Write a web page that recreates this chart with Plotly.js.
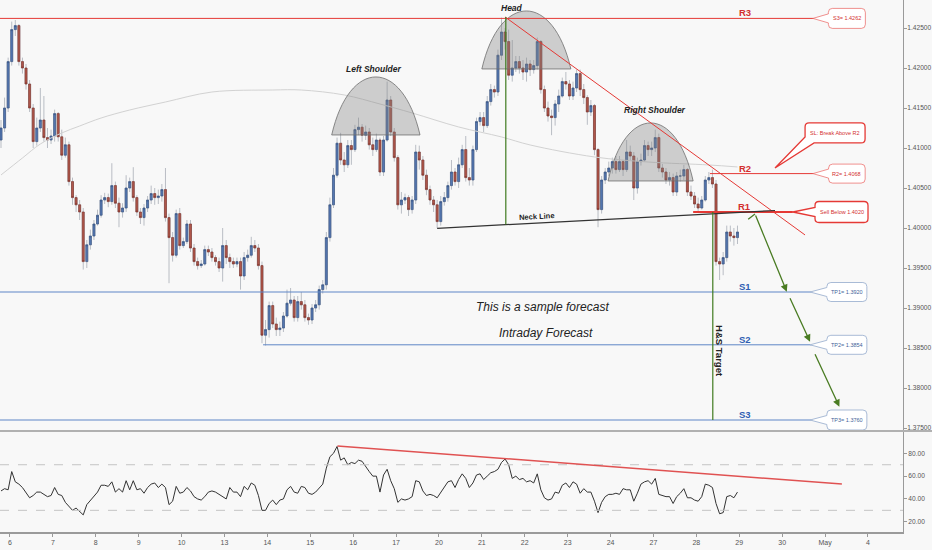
<!DOCTYPE html>
<html><head><meta charset="utf-8">
<script src="https://cdn.plot.ly/plotly-3.0.1.min.js"></script>
<style>html,body{margin:0;padding:0;background:#f8f8f8}#chart{width:932px;height:550px}</style>
</head><body><div id="chart"></div>
<script>
// ---------- data ----------
const dayLabels = ['6','7','8','9','10','13','14','15','16','17','20','21','22','23','24','27','28','29','30','May','4'];
const barsPerDay = 12;

const openP = [1.4110,1.4125,1.4150,1.4208,1.4248,1.4253,1.4208,1.4200,1.4180,1.4150,
1.4108,1.4125,1.4135,1.4113,1.4110,1.4115,1.4143,1.4114,1.4091,1.4104,
1.4058,1.4038,1.4029,1.4020,1.3958,1.3979,1.3990,1.4005,1.4016,1.4035,
1.4038,1.4033,1.4053,1.4031,1.4020,1.4025,1.4050,1.4058,1.4038,1.4020,
1.4013,1.4025,1.4035,1.4043,1.4038,1.4040,1.4048,1.4013,1.3988,1.3966,
1.4018,1.3978,1.3983,1.4005,1.3975,1.3958,1.3953,1.3955,1.3973,1.3970,
1.3963,1.3958,1.3950,1.3978,1.3963,1.3958,1.3955,1.3958,1.3940,1.3963,
1.3966,1.3978,1.3975,1.3953,1.3866,1.3873,1.3903,1.3880,1.3873,1.3875,
1.3890,1.3906,1.3910,1.3888,1.3908,1.3904,1.3888,1.3885,1.3900,1.3904,
1.3923,1.3929,1.3988,1.4029,1.4066,1.4106,1.4085,1.4079,1.4103,1.4098,
1.4123,1.4126,1.4116,1.4120,1.4104,1.4098,1.4110,1.4070,1.4110,1.4160,
1.4120,1.4088,1.4029,1.4035,1.4038,1.4023,1.4035,1.4095,1.4085,1.4066,
1.4048,1.4035,1.4029,1.4008,1.4033,1.4038,1.4053,1.4070,1.4058,1.4079,
1.4098,1.4063,1.4060,1.4098,1.4133,1.4138,1.4128,1.4158,1.4173,1.4170,
1.4216,1.4245,1.4233,1.4191,1.4200,1.4208,1.4200,1.4195,1.4205,1.4198,
1.4203,1.4233,1.4173,1.4150,1.4140,1.4138,1.4155,1.4165,1.4183,1.4180,
1.4165,1.4175,1.4193,1.4173,1.4163,1.4145,1.4153,1.4098,1.4023,1.4060,
1.4070,1.4075,1.4083,1.4073,1.4083,1.4073,1.4095,1.4090,1.4050,1.4083,
1.4085,1.4103,1.4098,1.4100,1.4113,1.4075,1.4070,1.4060,1.4063,1.4045,
1.4065,1.4065,1.4073,1.4045,1.4040,1.4030,1.4025,1.4035,1.4060,1.4063,
1.4055,1.3958,1.3955,1.3963,1.3995,1.3990,1.3988];

const highP = [1.4135,1.4163,1.4213,1.4258,1.4260,1.4255,1.4213,1.4205,1.4185,1.4155,
1.4138,1.4175,1.4165,1.4125,1.4123,1.4148,1.4145,1.4123,1.4113,1.4108,
1.4063,1.4041,1.4035,1.4025,1.3985,1.3998,1.4010,1.4023,1.4041,1.4044,
1.4043,1.4081,1.4058,1.4038,1.4031,1.4066,1.4063,1.4076,1.4041,1.4025,
1.4030,1.4040,1.4053,1.4050,1.4048,1.4055,1.4075,1.4018,1.3995,1.4023,
1.4025,1.3988,1.4010,1.4010,1.3980,1.3963,1.3960,1.3978,1.3978,1.3975,
1.3966,1.3963,1.4000,1.3985,1.3968,1.3963,1.3963,1.3963,1.3970,1.3973,
1.3989,1.3985,1.3980,1.3958,1.3885,1.3908,1.3908,1.3888,1.3883,1.3895,
1.3923,1.3925,1.3915,1.3915,1.3920,1.3910,1.3893,1.3905,1.3910,1.3928,
1.3935,1.3995,1.4038,1.4075,1.4113,1.4119,1.4095,1.4110,1.4110,1.4129,
1.4138,1.4130,1.4128,1.4125,1.4113,1.4118,1.4113,1.4115,1.4183,1.4165,
1.4125,1.4091,1.4045,1.4043,1.4041,1.4040,1.4104,1.4103,1.4090,1.4073,
1.4053,1.4040,1.4035,1.4040,1.4045,1.4058,1.4085,1.4075,1.4088,1.4104,
1.4115,1.4075,1.4103,1.4138,1.4145,1.4145,1.4165,1.4180,1.4178,1.4223,
1.4263,1.4250,1.4248,1.4235,1.4215,1.4215,1.4210,1.4213,1.4210,1.4210,
1.4238,1.4235,1.4178,1.4158,1.4148,1.4160,1.4173,1.4188,1.4195,1.4185,
1.4183,1.4198,1.4198,1.4180,1.4166,1.4160,1.4155,1.4100,1.4065,1.4075,
1.4083,1.4088,1.4090,1.4090,1.4085,1.4110,1.4103,1.4095,1.4088,1.4093,
1.4110,1.4108,1.4108,1.4123,1.4118,1.4080,1.4075,1.4070,1.4068,1.4070,
1.4073,1.4079,1.4075,1.4053,1.4045,1.4038,1.4040,1.4065,1.4070,1.4073,
1.4060,1.3963,1.3970,1.4003,1.4003,1.4000,1.4003];

const lowP = [1.4100,1.4120,1.4145,1.4203,1.4240,1.4203,1.4193,1.4173,1.4145,1.4100,
1.4103,1.4120,1.4108,1.4100,1.4105,1.4108,1.4108,1.4085,1.4088,1.4053,
1.4029,1.4020,1.4010,1.3948,1.3950,1.3973,1.3985,1.4003,1.4013,1.4030,
1.4026,1.4029,1.4025,1.4001,1.4013,1.4020,1.4045,1.4033,1.4015,1.4005,
1.4003,1.4020,1.4030,1.4029,1.4030,1.4033,1.4008,1.3931,1.3958,1.3963,
1.3973,1.3975,1.3980,1.3970,1.3953,1.3948,1.3950,1.3953,1.3965,1.3958,
1.3953,1.3945,1.3933,1.3955,1.3950,1.3950,1.3951,1.3923,1.3935,1.3958,
1.3963,1.3970,1.3948,1.3856,1.3853,1.3863,1.3875,1.3865,1.3865,1.3870,
1.3888,1.3903,1.3883,1.3883,1.3898,1.3883,1.3879,1.3880,1.3895,1.3898,
1.3918,1.3923,1.3983,1.4025,1.4063,1.4079,1.4070,1.4075,1.4079,1.4095,
1.4116,1.4108,1.4110,1.4098,1.4090,1.4095,1.4065,1.4065,1.4108,1.4115,
1.4083,1.4023,1.4018,1.4030,1.4015,1.4018,1.4030,1.4073,1.4060,1.4041,
1.4029,1.4020,1.4000,1.4003,1.4028,1.4033,1.4048,1.4053,1.4050,1.4075,
1.4058,1.4053,1.4053,1.4095,1.4128,1.4120,1.4125,1.4153,1.4163,1.4165,
1.4210,1.4223,1.4185,1.4183,1.4195,1.4193,1.4185,1.4183,1.4190,1.4193,
1.4198,1.4168,1.4145,1.4133,1.4116,1.4128,1.4145,1.4163,1.4173,1.4160,
1.4160,1.4170,1.4165,1.4155,1.4129,1.4140,1.4091,1.4001,1.4018,1.4055,
1.4065,1.4068,1.4068,1.4070,1.4065,1.4070,1.4085,1.4035,1.4043,1.4078,
1.4083,1.4090,1.4090,1.4095,1.4070,1.4063,1.4055,1.4053,1.4040,1.4040,
1.4058,1.4060,1.4040,1.4035,1.4025,1.4020,1.4023,1.4033,1.4055,1.4050,
1.3953,1.3935,1.3941,1.3958,1.3983,1.3978,1.3980];

const closeP = [1.4125,1.4150,1.4208,1.4248,1.4253,1.4208,1.4200,1.4180,1.4150,1.4108,
1.4125,1.4135,1.4113,1.4110,1.4115,1.4143,1.4114,1.4091,1.4104,1.4058,
1.4038,1.4029,1.4020,1.3958,1.3979,1.3990,1.4005,1.4016,1.4035,1.4038,
1.4033,1.4053,1.4031,1.4020,1.4025,1.4050,1.4058,1.4038,1.4020,1.4013,
1.4025,1.4035,1.4043,1.4038,1.4040,1.4048,1.4013,1.3988,1.3966,1.4018,
1.3978,1.3983,1.4005,1.3975,1.3958,1.3953,1.3955,1.3973,1.3970,1.3963,
1.3958,1.3950,1.3978,1.3963,1.3958,1.3955,1.3958,1.3940,1.3963,1.3966,
1.3978,1.3975,1.3953,1.3866,1.3873,1.3903,1.3880,1.3873,1.3875,1.3890,
1.3906,1.3910,1.3888,1.3908,1.3904,1.3888,1.3885,1.3900,1.3904,1.3923,
1.3929,1.3988,1.4029,1.4066,1.4106,1.4085,1.4079,1.4103,1.4098,1.4123,
1.4126,1.4116,1.4120,1.4104,1.4098,1.4110,1.4070,1.4110,1.4160,1.4120,
1.4088,1.4029,1.4035,1.4038,1.4023,1.4035,1.4095,1.4085,1.4066,1.4048,
1.4035,1.4029,1.4008,1.4033,1.4038,1.4053,1.4070,1.4058,1.4079,1.4098,
1.4063,1.4060,1.4098,1.4133,1.4138,1.4128,1.4158,1.4173,1.4170,1.4216,
1.4245,1.4233,1.4191,1.4200,1.4208,1.4200,1.4195,1.4205,1.4198,1.4203,
1.4233,1.4173,1.4150,1.4140,1.4138,1.4155,1.4165,1.4183,1.4180,1.4165,
1.4175,1.4193,1.4173,1.4163,1.4145,1.4153,1.4098,1.4023,1.4060,1.4070,
1.4075,1.4083,1.4073,1.4083,1.4073,1.4095,1.4090,1.4050,1.4083,1.4085,
1.4103,1.4098,1.4100,1.4113,1.4075,1.4070,1.4060,1.4063,1.4045,1.4065,
1.4065,1.4073,1.4045,1.4040,1.4030,1.4025,1.4035,1.4060,1.4063,1.4055,
1.3958,1.3955,1.3963,1.3995,1.3990,1.3988,1.3995];

const rsiVals = [47,49,48,64,55,53,50,45,41,43, 46,46,44,42,43,50,44,43,37,33,
30,32,29,26,35,39,43,46,52,52, 51,55,46,49,46,56,48,56,48,49,
45,50,53,54,50,53,50,35,38,51, 45,46,50,47,42,40,39,42,46,47,
46,44,42,40,50,46,46,42,51,48, 54,52,43,30,30,36,39,35,39,40,
48,51,46,45,51,50,45,44,46,50, 53,67,77,80,86,74,76,70,72,71,
74,73,68,64,60,60,46,61,66,56, 49,37,40,39,40,42,56,55,47,43,
44,43,41,46,51,55,56,50,57,62, 58,50,54,61,62,57,60,63,64,66,
72,75,70,58,60,57,58,55,56,54, 62,48,41,39,40,46,45,52,54,50,
55,53,45,49,46,46,38,28,37,42, 44,44,45,44,49,48,48,38,45,53,
55,56,53,58,44,43,42,42,36,42, 45,49,41,41,39,38,42,53,52,50,
36,27,28,42,43,41,46];

// slow moving average (sampled at bar index)
const maIdx  = [0,6,11,17,22,28,36,46,59,76,84,96,106,115,128,140,148,166,181,198,206];
const maVals = [1.40663,1.40875,1.41050,1.41188,1.41275,1.41375,1.41475,1.41575,1.41700,1.41725,1.41725,
                1.41663,1.41550,1.41438,1.41263,1.41138,1.41038,1.40888,1.40825,1.40788,1.40763];

// levels
const levelR3 = 1.4262, levelR2 = 1.4068, levelR1 = 1.4020;
const levelS1 = 1.3920, levelS2 = 1.3854, levelS3 = 1.3760;
const priceTicks = [1.375,1.380,1.385,1.390,1.395,1.400,1.405,1.410,1.415,1.420,1.425];
const rsiTicks = [20,40,60,80];

// ---------- geometry ----------
const XR = [-0.28, 252.3], YR = [1.37475, 1.4285], RR = [11, 98.7];
const PW = 903, PH = 430;
const ux = (XR[1]-XR[0])/PW, uy = (YR[1]-YR[0])/PH;

const barIdx = closeP.map((_, i) => i);
const bodyHi = closeP.map((c, i) => Math.max(c, openP[i]));
const bodyLo = closeP.map((c, i) => Math.min(c, openP[i]));
const tickVals = dayLabels.map((_, d) => 2.5 + barsPerDay*d);

const traces = [
  {type:'scatter', mode:'lines', x:maIdx, y:maVals, line:{color:'#d2d2d2', width:1, shape:'spline'}, hoverinfo:'skip', xaxis:'x', yaxis:'y'},
  {type:'candlestick', x:barIdx, open:openP, high:highP, low:lowP, close:closeP,
   increasing:{line:{color:'#b9bdc4', width:1}, fillcolor:'#b9bdc4'},
   decreasing:{line:{color:'#b9bdc4', width:1}, fillcolor:'#b9bdc4'},
   whiskerwidth:0, hoverinfo:'skip', xaxis:'x', yaxis:'y'},
  {type:'candlestick', x:barIdx, open:openP, high:bodyHi, low:bodyLo, close:closeP,
   increasing:{line:{color:'#34507f', width:0.6}, fillcolor:'#5678b2'},
   decreasing:{line:{color:'#7d3029', width:0.6}, fillcolor:'#b0584c'},
   whiskerwidth:0, hoverinfo:'skip', xaxis:'x', yaxis:'y'},
  {type:'scatter', mode:'lines', x:barIdx, y:rsiVals, line:{color:'#333', width:1}, hoverinfo:'skip', xaxis:'x', yaxis:'y2'}
];

function dome(i0, i1, base, top){
  const w = i1 - i0, yc = base + (top - base)/0.75;
  return {type:'path', xref:'x', yref:'y', layer:'above',
    path:`M${i0},${base} C${(i0+0.2*w).toFixed(3)},${yc.toFixed(6)} ${(i1-0.2*w).toFixed(3)},${yc.toFixed(6)} ${i1},${base} Z`,
    fillcolor:'rgba(130,130,130,0.36)', line:{color:'rgba(110,110,110,0.8)', width:1}};
}
function callout(cx, cy, w, h, tx, ty, mode, border, bw){
  const r = 4, g = 4.5;
  const X = dx => (cx + dx*ux).toFixed(4), Y = dy => (cy - dy*uy).toFixed(6);
  let p = `M${X(-w+r)},${Y(-h)} L${X(w-r)},${Y(-h)} Q${X(w)},${Y(-h)} ${X(w)},${Y(-h+r)} L${X(w)},${Y(h-r)} Q${X(w)},${Y(h)} ${X(w-r)},${Y(h)}`;
  if (mode === 'bl') {
    p += ` L${X(-w+9)},${Y(h)} L${tx},${ty} L${X(-w)},${Y(h-6)} L${X(-w)},${Y(-h+r)}`;
  } else {
    p += ` L${X(-w+r)},${Y(h)} Q${X(-w)},${Y(h)} ${X(-w)},${Y(h-r)} L${X(-w)},${Y(g)} L${tx},${ty} L${X(-w)},${Y(-g)} L${X(-w)},${Y(-h+r)}`;
  }
  p += ` Q${X(-w)},${Y(-h)} ${X(-w+r)},${Y(-h)} Z`;
  return {type:'path', xref:'x', yref:'y', layer:'above', path:p, fillcolor:'#ffffff', line:{color:border, width:bw}};
}
function hline(x0, x1, y, color, width, yref){
  return {type:'line', xref:'x', yref:yref||'y', x0:x0, x1:x1, y0:y, y1:y, line:{color:color, width:width}};
}
function seg(x0, y0, x1, y1, color, width, yref){
  return {type:'line', xref:'x', yref:yref||'y', x0:x0, y0:y0, x1:x1, y1:y1, line:{color:color, width:width}};
}

const RED = '#e53935', BLUE = '#5f86c7', GREEN = '#3f7a1f';
const lineEnd = 227.1;
const shapes = [
  dome(92.5, 117.2, 1.41163, 1.41888),
  dome(134.5, 159.4, 1.41988, 1.42713),
  dome(169.8, 193.6, 1.40588, 1.41313),
  hline(XR[0], lineEnd, levelR3, RED, 1),
  hline(198.3, lineEnd, levelR2, RED, 1),
  hline(193.6, 221.5, levelR1, RED, 2.2),
  hline(XR[0], lineEnd, levelS1, BLUE, 1),
  hline(73.3, lineEnd, levelS2, BLUE, 1),
  hline(XR[0], lineEnd, levelS3, BLUE, 1),
  seg(141.0, 1.42638, 224.9, 1.39913, RED, 1),
  seg(122.0, 1.39996, 216.5, 1.40219, '#333333', 1.2),
  seg(141.2, 1.42638, 141.2, 1.40043, GREEN, 1.2),
  seg(199.1, levelR1, 199.1, levelS3, GREEN, 1.2),
  seg(209.0, 1.40109, 210.9, 1.40175, '#4a7c23', 1.3),
  callout(236.6, levelR3, 18.5, 10, lineEnd, levelR3, 'left', 'rgba(229,57,53,0.55)', 1),
  callout(236.6, levelR2, 18.3, 9.5, lineEnd, levelR2, 'left', 'rgba(229,57,53,0.55)', 1),
  callout(233.3, 1.41188, 30, 10, 216.5, 1.4075, 'bl', RED, 1.3),
  callout(235.1, levelR1, 26.5, 10.5, 221.5, levelR1, 'left', RED, 1.3),
  callout(236.6, levelS1, 20, 9.5, 226.3, levelS1, 'left', '#a9bbd6', 1),
  callout(236.6, levelS2, 20, 9.5, 226.3, levelS2, 'left', '#a9bbd6', 1),
  callout(236.6, levelS3, 20, 10, 226.3, levelS3, 'left', '#a9bbd6', 1),
  {type:'line', xref:'paper', yref:'paper', x0:0, x1:1.04, y0:0.1898, y1:0.1898, line:{color:'#9a9a9a', width:1.5}},
  {type:'line', xref:'x', yref:'y2', x0:XR[0], x1:XR[1], y0:70, y1:70, line:{color:'#c4c4c4', width:1, dash:'dash'}},
  {type:'line', xref:'x', yref:'y2', x0:XR[0], x1:XR[1], y0:30, y1:30, line:{color:'#c4c4c4', width:1, dash:'dash'}},
  seg(94.1, 86.4, 235.2, 53.1, '#e05252', 1.5, 'y2')
];

const bi = {family:'Liberation Sans, Arial, sans-serif', size:8.5, color:'#222', weight:'bold', style:'italic'};
function txt(x, y, text, font, extra){
  return Object.assign({x:x, y:y, xref:'x', yref:'y', text:text, showarrow:false, xanchor:'center', yanchor:'middle', font:font}, extra||{});
}
function arrow(tx, ty, hx, hy){
  return {x:hx, y:hy, ax:tx, ay:ty, xref:'x', yref:'y', axref:'x', ayref:'y', text:'', showarrow:true,
          arrowhead:2, arrowsize:1.1, arrowwidth:1.3, arrowcolor:'#4a7c23'};
}
const lblR = {family:'Liberation Sans, Arial, sans-serif', size:9.5, color:'#d32f2f', weight:'bold'};
const lblS = {family:'Liberation Sans, Arial, sans-serif', size:9.5, color:'#2f5fb3', weight:'bold'};
const cR = {family:'Liberation Sans, Arial, sans-serif', size:5.5, color:'#d32f2f'};
const cB = {family:'Liberation Sans, Arial, sans-serif', size:5.5, color:'#3f5f9a'};
const it = {family:'Liberation Sans, Arial, sans-serif', size:12, color:'#222', style:'italic'};

const annotations = [
  txt(143.0, 1.4275, 'Head', bi),
  txt(104.1, 1.41988, 'Left Shoulder', bi),
  txt(182.9, 1.41475, 'Right Shoulder', bi),
  txt(149.9, 1.4015, 'Neck Line', {family:'Liberation Sans, Arial, sans-serif', size:7.5, color:'#222', weight:'bold'}, {textangle:-3}),
  txt(151.6, 1.39013, 'This is a sample forecast', it),
  txt(152.5, 1.38688, 'Intraday Forecast', it),
  txt(200.8, 1.38463, 'H&amp;S Target', {family:'Liberation Sans, Arial, sans-serif', size:9.5, color:'#222', weight:'bold'}, {textangle:90}),
  txt(208.1, 1.42688, 'R3', lblR), txt(208.1, 1.4075, 'R2', lblR), txt(208.1, 1.40263, 'R1', lblR),
  txt(208.1, 1.39269, 'S1', lblS), txt(208.1, 1.38606, 'S2', lblS), txt(208.1, 1.37669, 'S3', lblS),
  txt(236.6, levelR3, 'S3= 1.4262', cR),
  txt(236.6, levelR2, 'R2= 1.4068', cR),
  txt(233.3, 1.41188, 'SL: Break Above R2', cR),
  txt(235.1, levelR1, 'Sell Below 1.4020', cR),
  txt(236.6, levelS1, 'TP1= 1.3920', cB),
  txt(236.6, levelS2, 'TP2= 1.3854', cB),
  txt(236.6, levelS3, 'TP3= 1.3760', cB),
  arrow(210.9, 1.40175, 219.8, 1.39204),
  arrow(220.5, 1.39141, 226.3, 1.38579),
  arrow(227.5, 1.38441, 234.5, 1.37766)
];

const tickFont = {family:'Liberation Sans, Arial, sans-serif', size:6.6, color:'#555'};
const layout = {
  width:932, height:550, margin:{l:0, r:29, t:0, b:18, pad:0},
  paper_bgcolor:'#f8f8f8', plot_bgcolor:'#f8f8f8', showlegend:false,
  boxgap:0.3, boxgroupgap:0.2,
  xaxis:{range:XR, autorange:false, type:'linear', anchor:'y2', rangeslider:{visible:false},
    showgrid:false, zeroline:false, tickmode:'array', tickvals:tickVals, ticktext:dayLabels,
    ticks:'outside', ticklen:3, tickcolor:'#999', tickfont:{family:'Liberation Sans, Arial, sans-serif', size:7, color:'#555'},
    showline:true, linecolor:'#9a9a9a', linewidth:1.5},
  yaxis:{domain:[0.19173, 1], range:YR, autorange:false, side:'right', anchor:'x', showgrid:false, zeroline:false,
    tickmode:'array', tickvals:priceTicks, ticktext:priceTicks.map(v => v.toFixed(5)),
    ticks:'outside', ticklen:3, tickcolor:'#999', tickfont:tickFont, ticklabelstandoff:-1,
    showline:true, linecolor:'#9a9a9a', linewidth:1},
  yaxis2:{domain:[0, 0.18797], range:RR, autorange:false, side:'right', anchor:'x', showgrid:false, zeroline:false,
    tickmode:'array', tickvals:rsiTicks, ticktext:rsiTicks.map(v => v.toFixed(2)),
    ticks:'outside', ticklen:3, tickcolor:'#999', tickfont:tickFont, ticklabelstandoff:0,
    showline:true, linecolor:'#9a9a9a', linewidth:1},
  shapes:shapes, annotations:annotations
};
Plotly.newPlot('chart', traces, layout, {staticPlot:true, displayModeBar:false});
</script>
</body></html>
